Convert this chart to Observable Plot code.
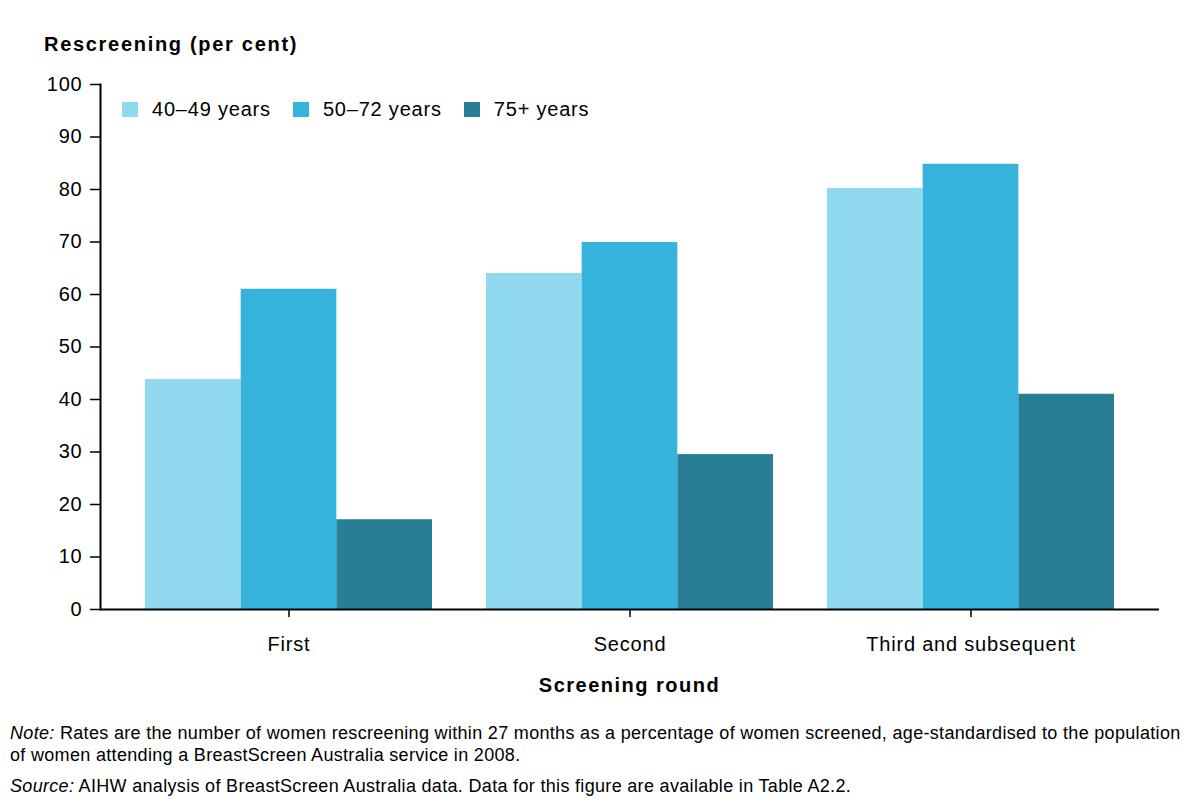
<!DOCTYPE html>
<html>
<head>
<meta charset="utf-8">
<script src="https://cdn.jsdelivr.net/npm/d3@7"></script>
<script src="https://cdn.jsdelivr.net/npm/@observablehq/plot@0.6"></script>
<style>
  body { margin: 0; background: #fff; font-family: Arial, "Liberation Sans", sans-serif; color: #000; }
  #wrap { position: relative; width: 1187px; height: 803px; overflow: hidden; }
  #chart { position: absolute; left: 0; top: 0; }
  #title { position: absolute; left: 44px; top: 32px; font-size: 20px; line-height: 24px; font-weight: bold; letter-spacing: 1.7px; white-space: nowrap; }
  #legend { position: absolute; left: 122px; top: 93px; }
  #legend .lg-swatch > svg { margin-right: 14px !important; }
  #legend .lg-swatch { margin-right: 22px !important; }
  #xlabel { position: absolute; left: 100px; width: 1059px; top: 673px; text-align: center; font-size: 20px; line-height: 24px; font-weight: bold; letter-spacing: 1.5px; }
  #notes { position: absolute; left: 10px; top: 722px; font-size: 18px; line-height: 22px; letter-spacing: 0.32px; white-space: nowrap; }
  #notes p { margin: 0 0 9px 0; }
</style>
</head>
<body>
<div id="wrap">
  <div id="chart"></div>
  <div id="title"></div>
  <div id="legend"></div>
  <div id="xlabel"></div>
  <div id="notes"></div>
</div>
<script>
const rounds = ["First", "Second", "Third and subsequent"];
const ages = ["40–49 years", "50–72 years", "75+ years"];
const colors = ["#8fd8f0", "#35b3dc", "#287d97"];
const v40to49 = [43.8, 64.0, 80.2];
const v50to72 = [61.0, 69.9, 84.8];
const v75plus = [17.1, 29.5, 41.0];
const yTicks = [0, 10, 20, 30, 40, 50, 60, 70, 80, 90, 100];
const yTitle = "Rescreening (per cent)";
const xTitle = "Screening round";
const noteLines = ["Rates are the number of women rescreening within 27 months as a percentage of women screened, age-standardised to the population", "of women attending a BreastScreen Australia service in 2008."];
const sourceText = "AIHW analysis of BreastScreen Australia data. Data for this figure are available in Table A2.2.";

const series = [v40to49, v50to72, v75plus];
const data = rounds.flatMap((r, i) => ages.map((a, j) => ({round: r, age: a, value: series[j][i]})));

const font = 'Arial, "Liberation Sans", sans-serif';

// Each age group's bar takes one third of its round's band on the x scale.
function build(bandwidth) {
  const third = bandwidth / ages.length;
  const bars = ages.map((a, j) => Plot.barY(data.filter(d => d.age === a), {
    x: "round", y: "value", fill: "age",
    insetLeft: j * third, insetRight: (ages.length - 1 - j) * third
  }));
  return Plot.plot({
    width: 1187,
    height: 665,
    marginTop: 84,
    marginBottom: 56,
    marginLeft: 100,
    marginRight: 28,
    style: {fontFamily: font, fontSize: "20px", letterSpacing: "0.8px", color: "#000", background: "#fff", overflow: "visible"},
    x: {domain: rounds, paddingInner: 0.1596, paddingOuter: 0.1318, label: null},
    y: {domain: [0, 100], label: null},
    color: {domain: ages, range: colors},
    marks: [
      ...bars,
      Plot.ruleY([0], {stroke: "#000", strokeWidth: 2}),
      Plot.frame({anchor: "left", stroke: "#000", strokeWidth: 2}),
      Plot.axisY({ticks: yTicks, tickSize: 10, tickPadding: 8, strokeWidth: 1.5, fontSize: 20, label: null, stroke: "#000"}),
      Plot.axisX({anchor: "bottom", tickSize: 8, tickPadding: 19, fontSize: 20, label: null, strokeWidth: 1.5, stroke: "#000"})
    ]
  });
}

const probe = build(0);
const chart = build(probe.scale("x").bandwidth);
document.getElementById("chart").appendChild(chart);

const leg = chart.legend("color", {
  swatchWidth: 16, swatchHeight: 15, className: "lg",
  style: {fontFamily: font, fontSize: "20px", letterSpacing: "0.8px", color: "#000"}
});
document.getElementById("legend").appendChild(leg);

document.getElementById("title").textContent = yTitle;
document.getElementById("xlabel").textContent = xTitle;

const notes = d3.select("#notes");
const p1 = notes.append("p");
p1.append("i").text("Note:");
p1.append("span").html(" " + noteLines[0] + "<br>" + noteLines[1]);
const p2 = notes.append("p");
p2.append("i").text("Source:");
p2.append("span").text(" " + sourceText);
</script>
</body>
</html>
